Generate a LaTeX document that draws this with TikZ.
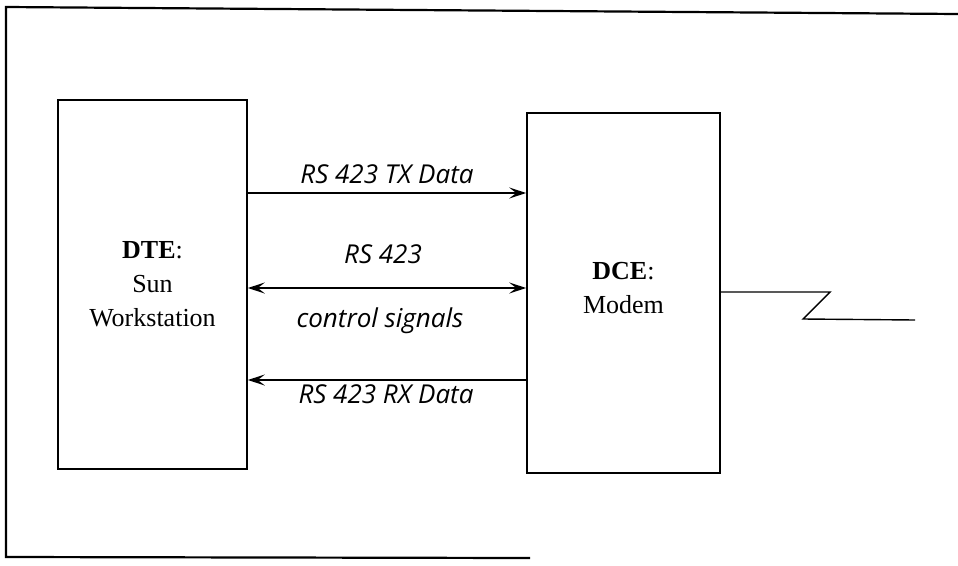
\documentclass[tikz,border=0pt]{standalone}
\usepackage{fontspec}
\setmainfont{Liberation Serif}
\newfontfamily\labelfont{Open Sans}
\usetikzlibrary{arrows.meta}
\begin{document}
\begin{tikzpicture}[x=1pt,y=-1pt,
  unit/.style={draw,line width=1.6pt,inner sep=0pt},
  unittext/.style={align=center,inner sep=0pt,font=\fontsize{26}{34}\selectfont},
  sig/.style={line width=1.4pt},
  tipr/.style={-{Stealth[length=17pt,width=11pt,inset=7pt]}},
  tipb/.style={{Stealth[length=17pt,width=11pt,inset=7pt]}-{Stealth[length=17pt,width=11pt,inset=7pt]}},
  lbl/.style={font=\labelfont\itshape\fontsize{26}{30}\selectfont,inner sep=0pt},
  frame/.style={line width=2.2pt}]
\useasboundingbox (0,0) rectangle (958,565);
% frame
\coordinate (f1) at (958,14);
\coordinate (f2) at (6,7);
\coordinate (f3) at (6,557);
\coordinate (f4) at (530,558);
\draw[frame] (f1) -- (f2) -- (f3) -- (f4);
% units
\node[unit,minimum width=189pt,minimum height=369pt] (dte) at (152.5,284.5) {};
\node[unittext] (dtetext) at (152.5,284) {\textbf{DTE}:\\Sun\\Workstation};
\node[unit,minimum width=193pt,minimum height=360pt] (dce) at (623.5,293) {};
\node[unittext] (dcetext) at (623.5,288) {\textbf{DCE}:\\Modem};
% signal levels
\coordinate (tx) at (0,193);
\coordinate (cs) at (0,288);
\coordinate (rx) at (0,380);
\draw[sig,tipr] (dte.east |- tx) -- (dce.west |- tx);
\draw[sig,tipb] (dte.east |- cs) -- (dce.west |- cs);
\draw[sig,tipr] (dce.west |- rx) -- (dte.east |- rx);
% labels
\node[lbl] (ltx) at (387,174) {RS 423 TX Data};
\node[lbl] (lcs1) at (383,254) {RS 423};
\node[lbl] (lcs2) at (380,321) {control signals};
\node[lbl] (lrx) at (386,394) {RS 423 RX Data};
% line
\coordinate (z1) at (830,292);
\coordinate (z2) at (803,319);
\coordinate (z3) at (915,320);
\draw[sig] (dce.east |- z1) -- (z1) -- (z2) -- (z3);
\end{tikzpicture}
\end{document}
